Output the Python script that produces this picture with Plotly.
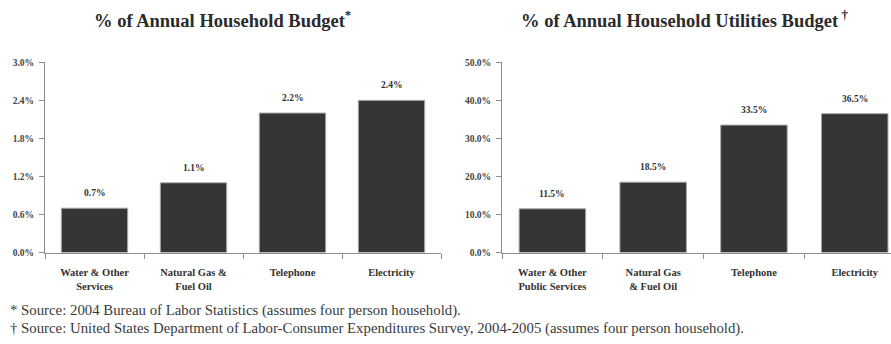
import plotly.graph_objects as go

# Household budget shares (percent)
budget_categories = ["Water & Other<br>Services", "Natural Gas &<br>Fuel Oil", "Telephone", "Electricity"]
budget_values = [0.7, 1.1, 2.2, 2.4]
budget_ticks = [0.0, 0.6, 1.2, 1.8, 2.4, 3.0]

# Utilities budget shares (percent)
utility_categories = ["Water & Other<br>Public Services", "Natural Gas<br>& Fuel Oil", "Telephone", "Electricity"]
utility_values = [11.5, 18.5, 33.5, 36.5]
utility_ticks = [0.0, 10.0, 20.0, 30.0, 40.0, 50.0]

footnotes = [
    "* Source: 2004 Bureau of Labor Statistics (assumes four person household).",
    "\u2020 Source: United States Department of Labor-Consumer Expenditures Survey, 2004-2005 (assumes four person household).",
]

W, H = 891, 344
SERIF = "Liberation Serif"
BAR_FILL = "#363435"
BAR_EDGE = "#a8a8a8"
AXIS = "#8c8c8c"
TEXT = "#333333"

fig = go.Figure()

fig.add_trace(go.Bar(
    x=budget_categories, y=budget_values, xaxis="x", yaxis="y",
    width=0.67, marker=dict(color=BAR_FILL, line=dict(color=BAR_EDGE, width=1)),
    hoverinfo="skip",
))
fig.add_trace(go.Bar(
    x=utility_categories, y=utility_values, xaxis="x2", yaxis="y2",
    width=0.66, marker=dict(color=BAR_FILL, line=dict(color=BAR_EDGE, width=1)),
    hoverinfo="skip",
))

y_dom = [1 - 255 / H, 1 - 59 / H]
tick_font = dict(family=SERIF, size=9.5, color="#444444", weight="bold")
cat_font = dict(family=SERIF, size=10.5, color=TEXT, weight="bold")

x_common = dict(
    type="category", showline=True, linecolor=AXIS, linewidth=1,
    ticks="outside", tickson="boundaries", ticklen=5, tickcolor=AXIS,
    tickfont=cat_font, showgrid=False, zeroline=False, fixedrange=True,
    ticklabelstandoff=10,
)
y_common = dict(
    showline=True, linecolor=AXIS, linewidth=1, ticks="outside", ticklen=5,
    tickcolor=AXIS, tickfont=tick_font, showgrid=False, zeroline=False,
    tickmode="array", fixedrange=True, ticklabelstandoff=3,
)

fig.update_layout(
    width=W, height=H, margin=dict(l=0, r=0, t=0, b=0),
    paper_bgcolor="white", plot_bgcolor="white", showlegend=False,
    xaxis=dict(domain=[45 / W, 441 / W], range=[-0.5, 3.5], anchor="y", **x_common),
    yaxis=dict(domain=y_dom, range=[0, 3.0], tickvals=budget_ticks,
               ticktext=[f"{t:.1f}%" for t in budget_ticks], anchor="x", **y_common),
    xaxis2=dict(domain=[502 / W, 1.0], range=[-0.5, 3.36], anchor="y2", **x_common),
    yaxis2=dict(domain=y_dom, range=[0, 50.0], tickvals=utility_ticks,
                ticktext=[f"{t:.1f}%" for t in utility_ticks], anchor="x2", **y_common),
)

annotations = []
# value labels above bars
for cats, vals, xr, yr in [(budget_categories, budget_values, "x", "y"),
                           (utility_categories, utility_values, "x2", "y2")]:
    for c, v in zip(cats, vals):
        annotations.append(dict(
            x=c, y=v, xref=xr, yref=yr, text=f"{v:.1f}%", showarrow=False,
            yshift=15, font=dict(family=SERIF, size=9.5, color=TEXT, weight="bold"),
        ))

# chart titles
title_font = dict(family=SERIF, size=18.5, color="#2b2b2b", weight="bold")
annotations.append(dict(
    x=222 / W, y=1 - 14 / H, xref="paper", yref="paper", xanchor="center", yanchor="middle",
    text="% of Annual Household Budget<sup>*</sup>", showarrow=False, font=title_font,
))
annotations.append(dict(
    x=684 / W, y=1 - 14 / H, xref="paper", yref="paper", xanchor="center", yanchor="middle",
    text="% of Annual Household Utilities Budget<sup> \u2020</sup>", showarrow=False, font=title_font,
))

# source notes
for i, note in enumerate(footnotes):
    annotations.append(dict(
        x=8 / W, y=1 - (315 + 18 * i) / H, xref="paper", yref="paper",
        xanchor="left", yanchor="middle", text=note, showarrow=False,
        font=dict(family=SERIF, size=14.8, color="#3a3a3a"),
    ))

fig.update_layout(annotations=annotations)
fig.write_html("out.html")
